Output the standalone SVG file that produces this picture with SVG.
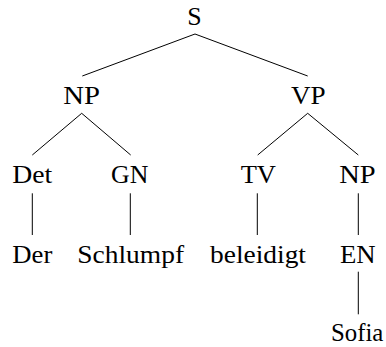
<svg xmlns="http://www.w3.org/2000/svg" width="386" height="347" viewBox="0 0 386 347" font-family="'Liberation Serif', 'DejaVu Serif', serif">
<style>
text{font-size:26px;fill:#000;text-anchor:middle}
.c line{stroke:#000;stroke-width:1}
</style>
<rect width="386" height="347" fill="#fff"/>
<g class="c" id="connectors">
<line x1="195" y1="34" x2="82.3" y2="76"/>
<line x1="195" y1="34" x2="307.7" y2="76"/>
<line x1="81.7" y1="113.3" x2="32.3" y2="155"/>
<line x1="81.7" y1="113.3" x2="130.7" y2="155"/>
<line x1="307.7" y1="113.3" x2="257.7" y2="155"/>
<line x1="307.7" y1="113.3" x2="358.3" y2="155"/>
<line x1="32.3" y1="193.3" x2="32.3" y2="235"/>
<line x1="130.3" y1="193.3" x2="130.3" y2="235"/>
<line x1="257.3" y1="193.3" x2="257.3" y2="235"/>
<line x1="358.3" y1="193.3" x2="358.3" y2="235"/>
<line x1="358.3" y1="271.7" x2="358.3" y2="314.3"/>
</g>
<g id="S"><text x="194.5" y="25" textLength="14.4" lengthAdjust="spacingAndGlyphs">S</text></g>
<g id="NP1"><text x="81.7" y="104" textLength="36.7" lengthAdjust="spacingAndGlyphs">NP</text></g>
<g id="VP"><text x="308.3" y="104" textLength="34.7" lengthAdjust="spacingAndGlyphs">VP</text></g>
<g id="Det"><text x="32.3" y="183" textLength="40" lengthAdjust="spacingAndGlyphs">Det</text></g>
<g id="GN"><text x="129.7" y="183" textLength="37.3" lengthAdjust="spacingAndGlyphs">GN</text></g>
<g id="TV"><text x="258.3" y="183" textLength="35.3" lengthAdjust="spacingAndGlyphs">TV</text></g>
<g id="NP2"><text x="357.5" y="183" textLength="36.4" lengthAdjust="spacingAndGlyphs">NP</text></g>
<g id="Der"><text x="32.3" y="263" textLength="40" lengthAdjust="spacingAndGlyphs">Der</text></g>
<g id="Schlumpf"><text x="130.7" y="263" textLength="106.7" lengthAdjust="spacingAndGlyphs">Schlumpf</text></g>
<g id="beleidigt"><text x="258" y="263" textLength="96" lengthAdjust="spacingAndGlyphs">beleidigt</text></g>
<g id="EN"><text x="357.8" y="263" textLength="35.7" lengthAdjust="spacingAndGlyphs">EN</text></g>
<g id="Sofia"><text x="357.2" y="340.5" textLength="52.3" lengthAdjust="spacingAndGlyphs">Sofia</text></g>
</svg>
